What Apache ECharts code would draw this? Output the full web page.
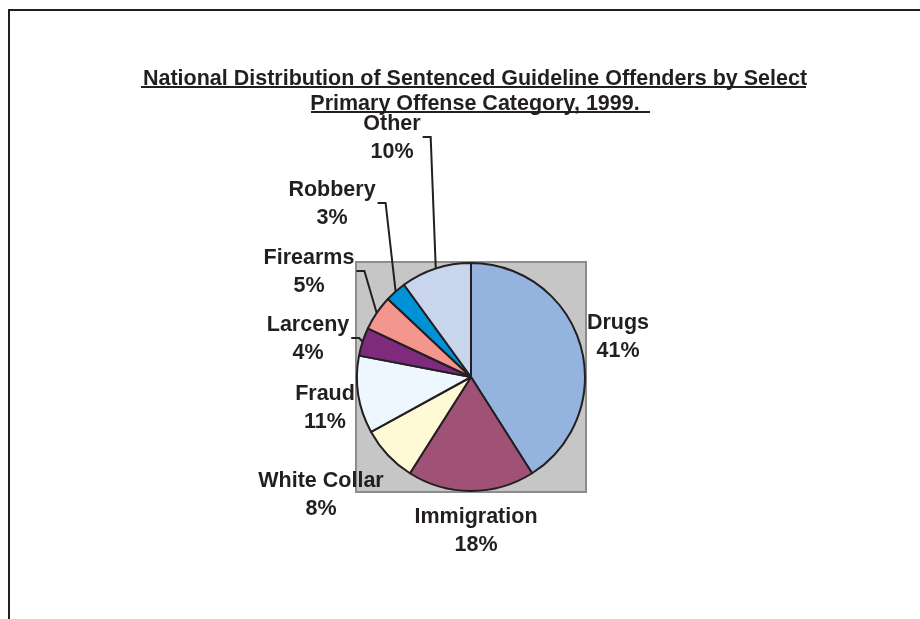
<!DOCTYPE html>
<html>
<head>
<meta charset="utf-8">
<script src="https://cdn.jsdelivr.net/npm/echarts@6/dist/echarts.min.js"></script>
<style>
  html, body { margin: 0; padding: 0; background: #fff; }
  #wrap { position: relative; width: 920px; height: 619px; overflow: hidden; }
  #frame { position: absolute; left: 8px; top: 9px; right: -4px; bottom: -4px;
           border-top: 2px solid #231f20; border-left: 2px solid #231f20; }
  #chart { position: absolute; left: 0; top: 0; width: 920px; height: 619px; }
</style>
</head>
<body>
<div id="wrap">
  <div id="frame"></div>
  <div id="chart"></div>
</div>
<script>
// offense categories, clockwise from 12 o'clock
const categories = ['Drugs', 'Immigration', 'White Collar', 'Fraud', 'Larceny', 'Firearms', 'Robbery', 'Other']
// share of sentenced offenders, percent
const shares = [41, 18, 8, 11, 4, 5, 3, 10]

const palette = ['#95b3df', '#a05176', '#fffad6', '#eef7ff', '#7e2a7d', '#f4968e', '#0092d6', '#c9d4ed']
const hasLeader = ['Larceny', 'Firearms', 'Robbery', 'Other']

// where each label block sits (center of the text)
const labelSpots = {
  'Drugs': [618, 337],
  'Immigration': [476, 531],
  'White Collar': [321, 495],
  'Fraud': [325, 408],
  'Larceny': [308, 339],
  'Firearms': [309, 272],
  'Robbery': [332, 204],
  'Other': [392, 138]
}

const cx = 471, cy = 377, r = 114
const ink = '#231f20'
const font = 'Liberation Sans, Arial, sans-serif'

const chart = echarts.init(document.getElementById('chart'))

const option = {
  animation: false,
  title: {
    text: 'National Distribution of Sentenced Guideline Offenders by Select\nPrimary Offense Category, 1999.',
    left: 470,
    top: 62,
    textAlign: 'center',
    textStyle: {
      fontFamily: font,
      fontSize: 21.5,
      fontWeight: 'bold',
      color: ink,
      lineHeight: 25
    }
  },
  graphic: [
    {
      type: 'rect', z: -10,
      shape: { x: cx - r - 1, y: cy - r - 1, width: 2 * r + 2, height: 2 * r + 2 },
      style: { fill: '#c6c6c6', stroke: '#8c8c8c', lineWidth: 2 }
    },
    { type: 'line', shape: { x1: 141, y1: 87, x2: 806, y2: 87 }, style: { stroke: ink, lineWidth: 2 } },
    { type: 'line', shape: { x1: 311, y1: 112, x2: 650, y2: 112 }, style: { stroke: ink, lineWidth: 2 } }
  ],
  series: [
    {
      type: 'pie',
      center: [cx, cy],
      radius: r,
      startAngle: 90,
      clockwise: true,
      avoidLabelOverlap: false,
      itemStyle: { borderColor: ink, borderWidth: 2 },
      label: {
        show: true,
        position: 'outside',
        formatter: '{b}\n{c}%',
        fontFamily: font,
        fontSize: 21.5,
        fontWeight: 'bold',
        color: ink,
        lineHeight: 28
      },
      labelLine: { show: true, lineStyle: { color: ink, width: 2 } },
      labelLayout: function (p) {
        const name = categories[p.dataIndex]
        const spot = labelSpots[name]
        const out = { x: spot[0], y: spot[1], align: 'center', verticalAlign: 'middle' }
        if (hasLeader.indexOf(name) >= 0 && p.labelLinePoints) {
          const edge = p.labelLinePoints[0]
          const right = spot[0] + p.labelRect.width / 2 + 2
          out.labelLinePoints = [
            [edge[0], edge[1]],
            [right + 8, spot[1] - 1],
            [right, spot[1] - 1]
          ]
        }
        return out
      },
      data: categories.map((name, i) => ({
        name: name,
        value: shares[i],
        itemStyle: { color: palette[i] },
        labelLine: { show: hasLeader.indexOf(name) >= 0 }
      }))
    }
  ]
}

chart.setOption(option)
</script>
</body>
</html>
